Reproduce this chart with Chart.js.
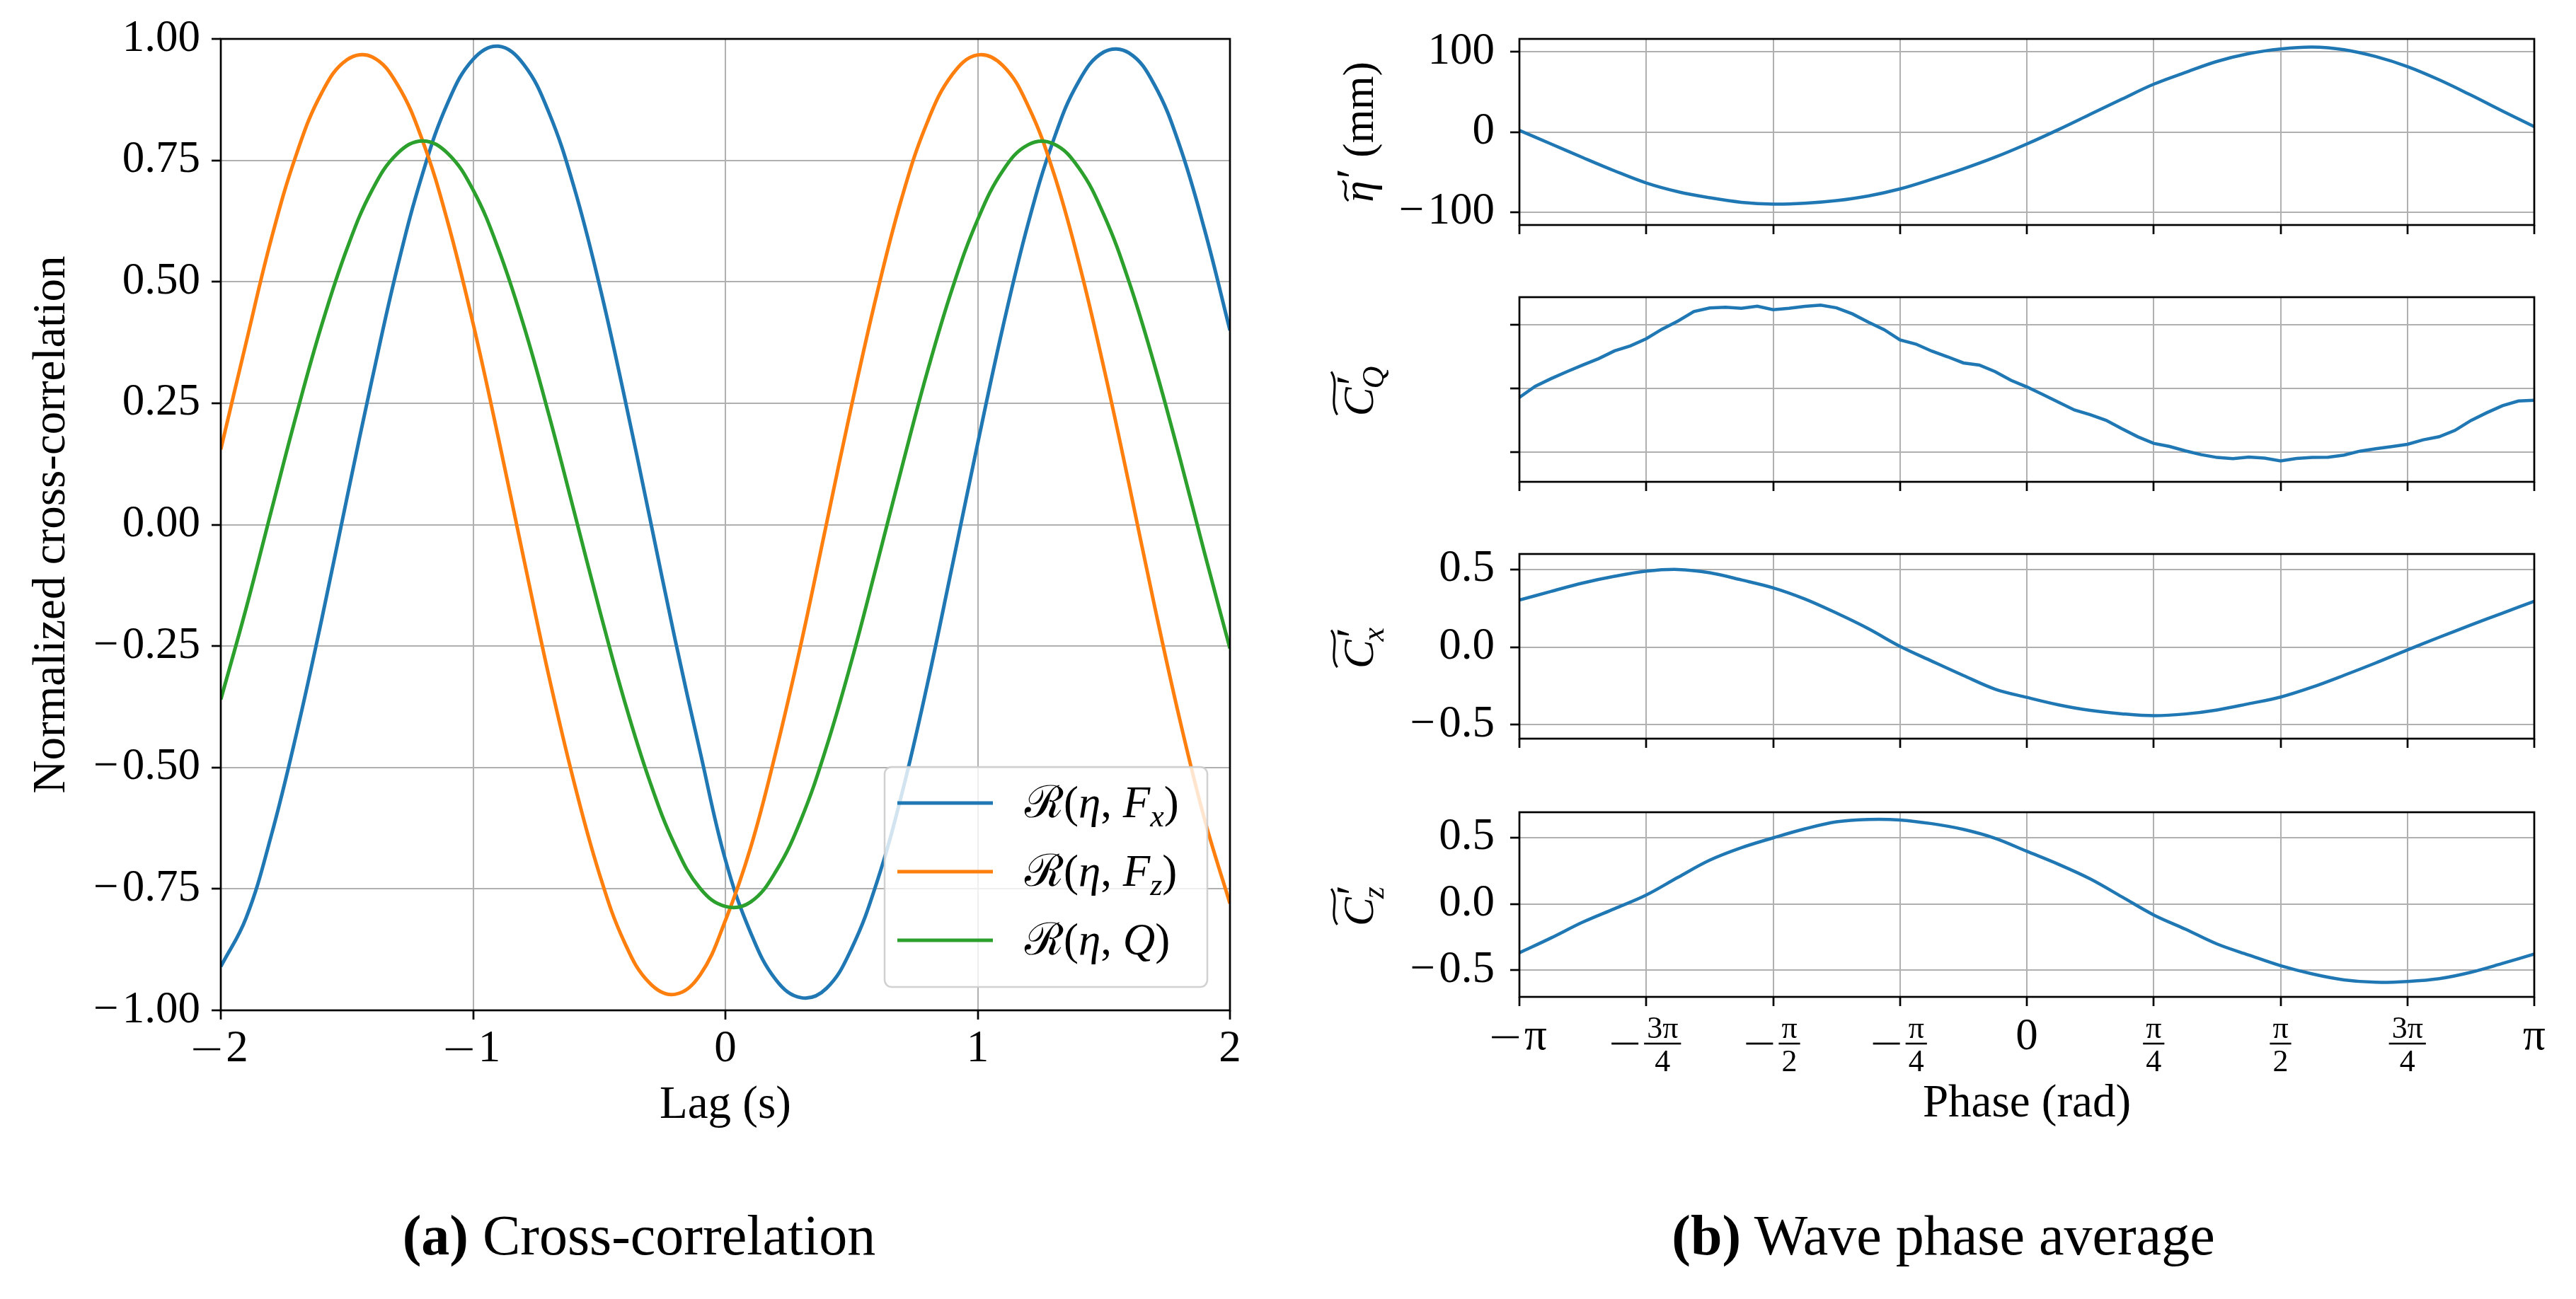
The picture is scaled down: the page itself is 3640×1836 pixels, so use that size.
<!DOCTYPE html>
<html>
<head>
<meta charset="utf-8">
<script src="https://cdn.jsdelivr.net/npm/chart.js@4.4.1/dist/chart.umd.min.js"></script>
<style>
  html, body { margin: 0; padding: 0; background: #fff; }
  body { width: 3640px; height: 1836px; position: relative; overflow: hidden; }
  canvas { position: absolute; }
  .cap { position: absolute; transform: translateX(-50%); white-space: nowrap;
         font-family: "Liberation Serif", "DejaVu Serif", serif; font-size: 80px; line-height: 80px; color: #000; }
</style>
</head>
<body>
<canvas id="cc" width="1800" height="1640" style="left:0;top:0"></canvas>
<canvas id="p1" width="1800" height="389" style="left:1840px;top:-7px"></canvas>
<canvas id="p2" width="1800" height="387" style="left:1840px;top:358px"></canvas>
<canvas id="p3" width="1800" height="387" style="left:1840px;top:721px"></canvas>
<canvas id="p4" width="1800" height="534" style="left:1840px;top:1086px"></canvas>
<div class="cap" style="left:903px;top:1706px"><b>(a)</b> Cross-correlation</div>
<div class="cap" style="left:2746px;top:1706px"><b>(b)</b> Wave phase average</div>
<script>
const SERIF = '"Liberation Serif", "DejaVu Serif", serif';
const BLUE = '#1f77b4', ORANGE = '#ff7f0e', GREEN = '#2ca02c';

// (a) cross-correlation, lag in seconds
const LAG = [-2.0, -1.9, -1.8, -1.7, -1.6, -1.5, -1.4, -1.3, -1.2, -1.1,
             -1.0, -0.9, -0.8, -0.7, -0.6, -0.5, -0.4, -0.3, -0.2, -0.1,
              0.0,  0.1,  0.2,  0.3,  0.4,  0.5,  0.6,  0.7,  0.8,  0.9,
              1.0,  1.1,  1.2,  1.3,  1.4,  1.5,  1.6,  1.7,  1.8,  1.9, 2.0];
const R_FX = [-0.91, -0.81, -0.64, -0.43, -0.195, 0.055, 0.30, 0.53, 0.723, 0.869,
              0.958, 0.985, 0.948, 0.849, 0.695, 0.495, 0.263, 0.015, -0.235, -0.468,
              -0.69, -0.84, -0.937, -0.974, -0.955, -0.873, -0.737, -0.553, -0.33, -0.083,
              0.167, 0.407, 0.62, 0.791, 0.912, 0.973, 0.971, 0.906, 0.781, 0.606, 0.40];
const R_FZ = [0.155, 0.374, 0.588, 0.763, 0.889, 0.957, 0.963, 0.906, 0.79, 0.622,
              0.414, 0.179, -0.068, -0.311, -0.53, -0.718, -0.86, -0.944, -0.967, -0.927,
              -0.815, -0.665, -0.468, -0.245, 0.0, 0.245, 0.474, 0.674, 0.828, 0.927,
              0.967, 0.945, 0.862, 0.726, 0.542, 0.323, 0.083, -0.165, -0.399, -0.608, -0.78];
const R_Q = [-0.36, -0.173, 0.028, 0.227, 0.411, 0.568, 0.689, 0.764, 0.79, 0.764,
             0.689, 0.568, 0.411, 0.227, 0.028, -0.173, -0.363, -0.528, -0.66, -0.749,
             -0.786, -0.777, -0.714, -0.607, -0.459, -0.281, -0.083, 0.119, 0.314, 0.487,
             0.628, 0.729, 0.782, 0.784, 0.735, 0.638, 0.5, 0.33, 0.14, -0.06, -0.255];
const LAG_TICKS = [-2, -1, 0, 1, 2];
const CC_TICKS = [-1, -0.75, -0.5, -0.25, 0, 0.25, 0.5, 0.75, 1];

// (b) wave phase average, phase in units of pi
const PHASE16 = [-1, -0.9375, -0.875, -0.8125, -0.75, -0.6875, -0.625, -0.5625, -0.5, -0.4375, -0.375,
                 -0.3125, -0.25, -0.1875, -0.125, -0.0625, 0, 0.0625, 0.125, 0.1875, 0.25, 0.3125,
                 0.375, 0.4375, 0.5, 0.5625, 0.625, 0.6875, 0.75, 0.8125, 0.875, 0.9375, 1];
const PHASE32 = [-1, -0.96875, -0.9375, -0.90625, -0.875, -0.84375, -0.8125, -0.78125, -0.75, -0.71875,
                 -0.6875, -0.65625, -0.625, -0.59375, -0.5625, -0.53125, -0.5, -0.46875, -0.4375, -0.40625,
                 -0.375, -0.34375, -0.3125, -0.28125, -0.25, -0.21875, -0.1875, -0.15625, -0.125, -0.09375,
                 -0.0625, -0.03125, 0, 0.03125, 0.0625, 0.09375, 0.125, 0.15625, 0.1875, 0.21875,
                 0.25, 0.28125, 0.3125, 0.34375, 0.375, 0.40625, 0.4375, 0.46875, 0.5, 0.53125,
                 0.5625, 0.59375, 0.625, 0.65625, 0.6875, 0.71875, 0.75, 0.78125, 0.8125, 0.84375,
                 0.875, 0.90625, 0.9375, 0.96875, 1];
const ETA = [2, -15, -32, -48.5, -63.6, -74.5, -82, -87.7, -90, -88.9, -85.6, -79.8, -71, -59, -46, -31.5,
             -15, 3, 22, 41, 59.5, 74.2, 88, 97.7, 103.5, 105.9, 102.6, 94, 81.5, 65, 46, 26, 6.7];
const C_Q = [-0.14, 0.036, 0.155, 0.265, 0.368, 0.468, 0.59, 0.667, 0.78, 0.93,
             1.057, 1.204, 1.26, 1.271, 1.256, 1.289, 1.234, 1.256, 1.285, 1.304,
             1.263, 1.168, 1.039, 0.921, 0.762, 0.696, 0.586, 0.497, 0.401, 0.368,
             0.265, 0.129, 0.026, -0.092, -0.214, -0.335, -0.409, -0.497, -0.63, -0.755,
             -0.858, -0.906, -0.976, -1.035, -1.079, -1.098, -1.072, -1.09, -1.134, -1.094,
             -1.079, -1.075, -1.042, -0.98, -0.943, -0.91, -0.873, -0.803, -0.755, -0.655,
             -0.501, -0.379, -0.269, -0.195, -0.184];
const C_X = [0.303, 0.359, 0.413, 0.456, 0.489, 0.5, 0.479, 0.433, 0.382, 0.31, 0.219, 0.119, 0.005,
             -0.09, -0.183, -0.271, -0.324, -0.372, -0.408, -0.43, -0.442, -0.431, -0.405, -0.365, -0.322,
             -0.258, -0.182, -0.102, -0.018, 0.063, 0.142, 0.219, 0.295];
const C_Z = [-0.368, -0.256, -0.137, -0.036, 0.067, 0.2, 0.329, 0.423, 0.497, 0.565, 0.618, 0.636, 0.632,
             0.604, 0.561, 0.494, 0.396, 0.298, 0.188, 0.053, -0.083, -0.19, -0.302, -0.385, -0.465,
             -0.527, -0.572, -0.59, -0.584, -0.563, -0.515, -0.448, -0.377];
const PHASE_TICKS = [-1, -0.75, -0.5, -0.25, 0, 0.25, 0.5, 0.75, 1];
const PHASE_TICK_LABELS = ['−π', '−3π/4', '−π/2', '−π/4', '0', 'π/4', 'π/2', '3π/4', 'π'];
const ETA_TICKS = [-100, 0, 100];
const CQ_TICKS = [-1, 0, 1];
const C_TICKS = [-0.5, 0, 0.5];

const TICK_FONT = { family: SERIF, size: 63 };
const TITLE_FONT = { family: SERIF, size: 65 };
const GRID = { color: '#b0b0b0', lineWidth: 2, tickColor: '#000', tickLength: 13, tickWidth: 2.7, drawTicks: true };
const MINUS_W = 38, MINUS_GAP = 8;

function signed(v, d) {
  const s = Math.abs(v).toFixed(d);
  return v < 0 ? '−\u200A' + s : s;
}

// full black box around each axes
const framePlugin = {
  id: 'frame',
  afterDatasetsDraw(chart) {
    const a = chart.chartArea, ctx = chart.ctx;
    ctx.save();
    ctx.strokeStyle = '#000';
    ctx.lineWidth = 2.7;
    ctx.strokeRect(a.left, a.top, a.right - a.left, a.bottom - a.top);
    ctx.restore();
  }
};

// a centred label with a long math minus in front of the body text
function drawSignedText(ctx, cx, baseline, neg, body) {
  ctx.font = '63px ' + SERIF;
  ctx.textAlign = 'left';
  ctx.textBaseline = 'alphabetic';
  const wb = ctx.measureText(body).width;
  let x = cx - ((neg ? MINUS_W + MINUS_GAP : 0) + wb) / 2;
  if (neg) { ctx.fillRect(x, baseline - 17 - 1.4, MINUS_W, 2.8); x += MINUS_W + MINUS_GAP; }
  ctx.fillText(body, x, baseline);
}

// lag tick labels, placed by hand under the axis
const lagTickPlugin = {
  id: 'lagTicks',
  afterDraw(chart) {
    const ctx = chart.ctx, sx = chart.scales.x, base = chart.chartArea.bottom;
    ctx.save();
    ctx.fillStyle = '#000';
    LAG_TICKS.forEach(v => drawSignedText(ctx, sx.getPixelForValue(v), base + 72, v < 0, String(Math.abs(v))));
    ctx.restore();
  }
};

// draws a run of text pieces, returns its width
function drawRun(ctx, x, y, parts, size) {
  let cx = x;
  for (const p of parts) {
    const fs = Math.round(size * (p.s || 1));
    ctx.font = (p.i ? 'italic ' : '') + fs + 'px ' + SERIF;
    ctx.fillText(p.t, cx, y + (p.dy || 0) * size);
    cx += ctx.measureText(p.t).width;
  }
  return cx - x;
}

const LEGEND_ITEMS = [
  { color: BLUE,   parts: [{ t: 'ℛ' }, { t: '(' }, { t: 'η', i: 1 }, { t: ', ' }, { t: 'F', i: 1 }, { t: 'x', i: 1, s: 0.7, dy: 0.2 }, { t: ')' }] },
  { color: ORANGE, parts: [{ t: 'ℛ' }, { t: '(' }, { t: 'η', i: 1 }, { t: ', ' }, { t: 'F', i: 1 }, { t: 'z', i: 1, s: 0.7, dy: 0.2 }, { t: ')' }] },
  { color: GREEN,  parts: [{ t: 'ℛ' }, { t: '(' }, { t: 'η', i: 1 }, { t: ', ' }, { t: 'Q', i: 1 }, { t: ')' }] }
];

const legendPlugin = {
  id: 'ccLegend',
  afterDraw(chart) {
    const ctx = chart.ctx, a = chart.chartArea;
    const w = 456, h = 311, x = a.right - 32 - w, y = a.bottom - 33 - h, r = 10;
    ctx.save();
    ctx.beginPath();
    ctx.moveTo(x + r, y);
    ctx.arcTo(x + w, y, x + w, y + h, r);
    ctx.arcTo(x + w, y + h, x, y + h, r);
    ctx.arcTo(x, y + h, x, y, r);
    ctx.arcTo(x, y, x + w, y, r);
    ctx.closePath();
    ctx.fillStyle = 'rgba(255,255,255,0.8)';
    ctx.fill();
    ctx.strokeStyle = 'rgba(204,204,204,0.9)';
    ctx.lineWidth = 2.5;
    ctx.stroke();
    LEGEND_ITEMS.forEach((it, k) => {
      const ry = y + 51 + k * 97;
      ctx.strokeStyle = it.color;
      ctx.lineWidth = 5;
      ctx.beginPath();
      ctx.moveTo(x + 18, ry);
      ctx.lineTo(x + 153, ry);
      ctx.stroke();
      ctx.fillStyle = '#000';
      ctx.textBaseline = 'alphabetic';
      drawRun(ctx, x + 198, ry + 20, it.parts, 63);
    });
    ctx.restore();
  }
};

new Chart(document.getElementById('cc'), {
  type: 'line',
  data: {
    datasets: [
      { label: 'R(eta, Fx)', data: LAG.map((t, i) => ({ x: t, y: R_FX[i] })), borderColor: BLUE, borderWidth: 5, pointRadius: 0, tension: 0.4, order: 3 },
      { label: 'R(eta, Fz)', data: LAG.map((t, i) => ({ x: t, y: R_FZ[i] })), borderColor: ORANGE, borderWidth: 5, pointRadius: 0, tension: 0.4, order: 2 },
      { label: 'R(eta, Q)', data: LAG.map((t, i) => ({ x: t, y: R_Q[i] })), borderColor: GREEN, borderWidth: 5, pointRadius: 0, tension: 0.4, order: 1 }
    ]
  },
  options: {
    responsive: false, animation: false, devicePixelRatio: 1,
    layout: { padding: { top: 55, right: 62, bottom: 0, left: 0 } },
    plugins: { legend: { display: false }, tooltip: { enabled: false } },
    scales: {
      x: {
        type: 'linear', min: -2, max: 2,
        afterBuildTicks: s => { s.ticks = LAG_TICKS.map(v => ({ value: v })); },
        afterFit: s => { s.height = 212; },
        grid: GRID, border: { display: false },
        ticks: { font: TICK_FONT, maxRotation: 0, callback: () => '' },
        title: { display: true, text: 'Lag (s)', color: '#000', font: TITLE_FONT, padding: { top: 0, bottom: 38 } }
      },
      y: {
        type: 'linear', min: -1, max: 1,
        afterBuildTicks: s => { s.ticks = CC_TICKS.map(v => ({ value: v })); },
        afterFit: s => { s.width = 312; },
        grid: GRID, border: { display: false },
        ticks: { color: '#000', font: TICK_FONT, padding: 16, callback: v => signed(v, 2) },
        title: { display: true, text: 'Normalized cross-correlation', color: '#000', font: TITLE_FONT, padding: { top: 35, bottom: 0 } }
      }
    }
  },
  plugins: [framePlugin, lagTickPlugin, legendPlugin]
});

// rotated y label like  ~C'_Q  drawn with a wide tilde
function drawPanelLabel(ctx, cx, cy, lab, size) {
  ctx.save();
  ctx.translate(cx, cy);
  ctx.rotate(-Math.PI / 2);
  ctx.fillStyle = '#000';
  ctx.strokeStyle = '#000';
  ctx.textBaseline = 'alphabetic';
  const fMain = 'italic ' + size + 'px ' + SERIF;
  const fPrime = Math.round(size * 1.1) + 'px ' + SERIF;
  const fSub = 'italic ' + Math.round(size * 0.72) + 'px ' + SERIF;
  const fTail = size + 'px ' + SERIF;
  ctx.font = fMain; const wm = ctx.measureText(lab.main).width;
  ctx.font = fPrime; const wp = ctx.measureText('′').width;
  ctx.font = fSub; const ws = lab.sub ? ctx.measureText(lab.sub).width : 0;
  ctx.font = fTail; const wt = lab.tail ? ctx.measureText(lab.tail).width : 0;
  const wScript = Math.max(wp, ws);
  const total = wm + 3 + wScript + wt;
  const x = -total / 2, b = size * 0.3;
  ctx.font = fMain; ctx.fillText(lab.main, x, b);
  ctx.font = fPrime; ctx.fillText('′', x + wm + 3, b - size * 0.1);
  if (lab.sub) { ctx.font = fSub; ctx.fillText(lab.sub, x + wm - 2, b + size * 0.24); }
  if (lab.tail) { ctx.font = fTail; ctx.fillText(lab.tail, x + wm + 3 + wScript, b); }
  const isEta = lab.main === 'η';
  const tx0 = x + 2, tx1 = x + wm + (isEta ? 0 : wScript * 0.7);
  const ty = b - size * (isEta ? 0.64 : 0.9);
  const amp = size * 0.07, tw = tx1 - tx0;
  ctx.lineWidth = size * 0.05;
  ctx.beginPath();
  ctx.moveTo(tx0, ty + amp);
  ctx.bezierCurveTo(tx0 + tw * 0.3, ty - amp * 1.8, tx0 + tw * 0.7, ty + amp * 1.8, tx1, ty - amp);
  ctx.stroke();
  ctx.restore();
}

function labelPlugin(lab) {
  return {
    id: 'panelLabel',
    afterDraw(chart) {
      const a = chart.chartArea;
      drawPanelLabel(chart.ctx, 82, (a.top + a.bottom) / 2, lab, 61);
    }
  };
}

// fraction-style tick labels under the last panel
function drawPhaseLabel(ctx, cx, base, str) {
  const neg = str.startsWith('−');
  const body = neg ? str.slice(1) : str;
  if (body.includes('/')) {
    const [num, den] = body.split('/');
    ctx.font = '44px ' + SERIF;
    ctx.textBaseline = 'alphabetic';
    const barW = Math.max(ctx.measureText(num).width, ctx.measureText(den).width) + 8;
    const total = (neg ? MINUS_W + MINUS_GAP : 0) + barW;
    let x = cx - total / 2;
    const barY = base + 66;
    if (neg) { ctx.fillRect(x, barY - 1.4, MINUS_W, 2.8); x += MINUS_W + MINUS_GAP; }
    ctx.fillRect(x, barY - 1.3, barW, 2.6);
    ctx.textAlign = 'center';
    ctx.fillText(num, x + barW / 2, barY - 8);
    ctx.fillText(den, x + barW / 2, barY + 39);
  } else {
    drawSignedText(ctx, cx, base + 74, neg, body);
  }
}

const phaseTickPlugin = {
  id: 'phaseTicks',
  afterDraw(chart) {
    const ctx = chart.ctx, sx = chart.scales.x, base = chart.chartArea.bottom;
    ctx.save();
    ctx.fillStyle = '#000';
    PHASE_TICKS.forEach((v, i) => drawPhaseLabel(ctx, sx.getPixelForValue(v), base, PHASE_TICK_LABELS[i]));
    ctx.restore();
  }
};

function phasePanel(id, phase, values, yMin, yMax, yTicks, yFmt, axisH, tension, lab, bottom) {
  const plugins = [framePlugin, labelPlugin(lab)];
  if (bottom) plugins.push(phaseTickPlugin);
  return new Chart(document.getElementById(id), {
    type: 'line',
    data: { datasets: [{ data: phase.map((p, i) => ({ x: p, y: values[i] })), borderColor: BLUE, borderWidth: 4.5, pointRadius: 0, tension: tension }] },
    options: {
      responsive: false, animation: false, devicePixelRatio: 1,
      layout: { padding: { top: 62, right: 59, bottom: 0, left: 0 } },
      plugins: { legend: { display: false }, tooltip: { enabled: false } },
      scales: {
        x: {
          type: 'linear', min: -1, max: 1,
          afterBuildTicks: s => { s.ticks = PHASE_TICKS.map(v => ({ value: v })); },
          afterFit: s => { s.height = axisH; },
          grid: GRID, border: { display: false },
          ticks: { font: TICK_FONT, maxRotation: 0, callback: () => '' },
          title: bottom
            ? { display: true, text: 'Phase (rad)', color: '#000', font: TITLE_FONT, padding: { top: 0, bottom: 20 } }
            : { display: false }
        },
        y: {
          type: 'linear', min: yMin, max: yMax,
          afterBuildTicks: s => { s.ticks = yTicks.map(v => ({ value: v })); },
          afterFit: s => { s.width = 307; },
          grid: GRID, border: { display: false },
          ticks: { color: '#000', font: TICK_FONT, padding: 22, callback: yFmt }
        }
      }
    },
    plugins: plugins
  });
}

phasePanel('p1', PHASE16, ETA, -116, 116, ETA_TICKS, v => signed(v, 0), 64, 0.35, { main: 'η', tail: ' (mm)' }, false);
phasePanel('p2', PHASE32, C_Q, -1.46, 1.43, CQ_TICKS, () => '', 64, 0, { main: 'C', sub: 'Q' }, false);
phasePanel('p3', PHASE16, C_X, -0.59, 0.60, C_TICKS, v => signed(v, 1), 64, 0.35, { main: 'C', sub: 'x' }, false);
phasePanel('p4', PHASE16, C_Z, -0.70, 0.69, C_TICKS, v => signed(v, 1), 211, 0.35, { main: 'C', sub: 'z' }, true);
</script>
</body>
</html>
